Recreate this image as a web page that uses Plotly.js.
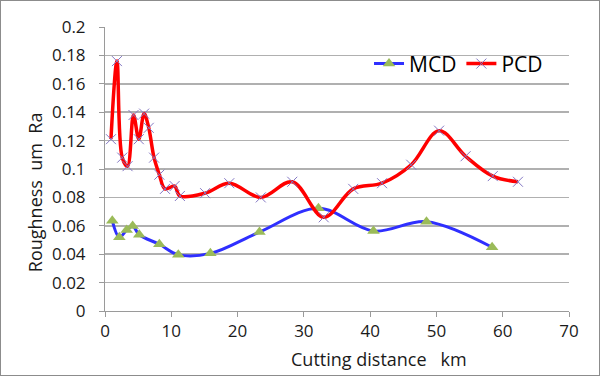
<!DOCTYPE html>
<html>
<head>
<meta charset="utf-8">
<script src="https://cdn.plot.ly/plotly-3.0.1.min.js"></script>
<style>
  html, body { margin: 0; padding: 0; background: #fff; }
  #wrap { position: relative; width: 600px; height: 376px; }
  #chart { width: 600px; height: 376px; }
  #frame { position: absolute; left: 0; top: 0; width: 598px; height: 374px; border: 1px solid #8c8c8c; pointer-events: none; }
</style>
</head>
<body>
<div id="wrap"><div id="chart"></div><div id="frame"></div></div>
<script>
// Cutting distance (km) and roughness (um Ra)
const mcdX = [1.1, 2.16, 3.27, 4.17, 5.17, 8.2, 11.06, 15.9, 23.3, 32.2, 40.5, 48.5, 58.4];
const mcdY = [0.0636, 0.0519, 0.057, 0.0599, 0.0537, 0.047, 0.0397, 0.0406, 0.0556, 0.0723, 0.0563, 0.0629, 0.0449];

const pcdX = [0.9, 1.8, 2.6, 3.4, 4.3, 5.1, 5.9, 6.6, 7.4, 8.2, 9.05, 10.5, 11.3, 15.1, 18.75, 23.5, 28.25, 33.0, 37.45, 41.8, 46.2, 50.4, 54.4, 58.5, 62.3];
const pcdY = [0.121, 0.176, 0.108, 0.102, 0.138, 0.121, 0.139, 0.129, 0.108, 0.096, 0.086, 0.088, 0.081, 0.083, 0.090, 0.080, 0.091, 0.066, 0.086, 0.090, 0.103, 0.127, 0.109, 0.095, 0.091];

const seriesNames = ["MCD", "PCD"];
const xTickVals = [0, 10, 20, 30, 40, 50, 60, 70];
const yTickVals = [0, 0.02, 0.04, 0.06, 0.08, 0.1, 0.12, 0.14, 0.16, 0.18, 0.2];
const xTitle = "Cutting distance\u00a0\u00a0\u00a0km";
const yTitle = "Roughness\u00a0\u00a0um\u00a0\u00a0Ra";

const FONT = "Open Sans, Liberation Sans, sans-serif";

const traces = [
  {
    x: mcdX, y: mcdY, name: seriesNames[0], type: "scatter", mode: "lines+markers",
    line: { color: "#2f2fff", width: 3, shape: "spline", smoothing: 1 },
    marker: { symbol: "triangle-up", size: 11, color: "#9bbb59" }
  },
  {
    x: pcdX, y: pcdY, name: seriesNames[1], type: "scatter", mode: "lines+markers",
    line: { color: "#ff0000", width: 3.5, shape: "spline", smoothing: 1 },
    marker: { symbol: "x-thin-open", size: 10, color: "#8478c4", line: { color: "#8478c4", width: 1 } }
  }
];

const layout = {
  width: 600, height: 376,
  margin: { l: 105, r: 31, t: 27, b: 65 },
  paper_bgcolor: "#ffffff", plot_bgcolor: "#ffffff",
  font: { family: FONT, size: 18, color: "#1a1a1a" },
  showlegend: true,
  legend: {
    orientation: "h", x: 0.569, y: 0.87, xanchor: "left", yanchor: "middle",
    font: { family: FONT, size: 21, color: "#000" },
    bgcolor: "rgba(255,255,255,0)", itemwidth: 30, tracegroupgap: 0
  },
  xaxis: {
    range: [0, 70], tickvals: xTickVals, ticktext: xTickVals.map(String),
    showgrid: false, zeroline: false,
    showline: true, linecolor: "#9a9a9a", linewidth: 1,
    ticks: "outside", ticklen: 5, tickcolor: "#9a9a9a",
    tickfont: { family: FONT, size: 17, color: "#1a1a1a" }
  },
  yaxis: {
    range: [0, 0.2], tickvals: yTickVals, ticktext: yTickVals.map(v => String(v)),
    showgrid: true, gridcolor: "#b0b0b0", gridwidth: 1.5, zeroline: false,
    showline: true, linecolor: "#9a9a9a", linewidth: 1,
    ticks: "outside", ticklen: 5, tickcolor: "#9a9a9a", ticklabelstandoff: 10,
    tickfont: { family: FONT, size: 17, color: "#1a1a1a" }
  },
  annotations: [
    { text: yTitle, xref: "paper", yref: "paper", x: -0.152, y: 0.42, xanchor: "center", yanchor: "middle",
      textangle: -90, showarrow: false, font: { family: FONT, size: 18, color: "#1a1a1a" } },
    { text: xTitle, xref: "paper", yref: "paper", x: 0.59, y: -0.168, xanchor: "center", yanchor: "middle",
      showarrow: false, font: { family: FONT, size: 18, color: "#1a1a1a" } }
  ]
};

Plotly.newPlot("chart", traces, layout, { displayModeBar: false, staticPlot: true });
</script>
</body>
</html>
